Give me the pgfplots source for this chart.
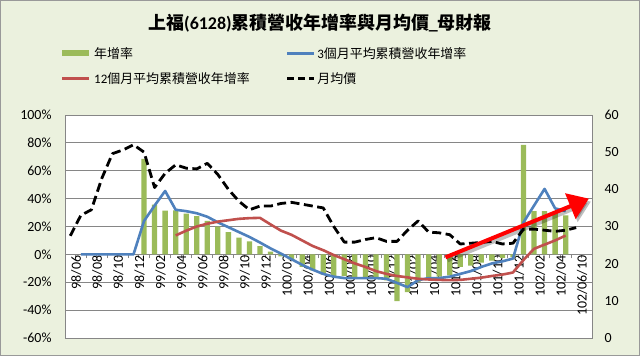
\documentclass[border=0pt]{standalone}
\usepackage{fontspec}
\setmainfont{Carlito}
\newfontfamily\cjk{Noto Sans CJK TC}
\usepackage{pgfplots}
\pgfplotsset{compat=1.18}
\usetikzlibrary{arrows.meta}
\definecolor{bg}{RGB}{235,241,222}
\definecolor{bargreen}{RGB}{155,187,89}
\definecolor{lblue}{RGB}{79,129,189}
\definecolor{lred}{RGB}{192,80,77}
\definecolor{gridgray}{RGB}{134,134,134}
\newcommand\tf{\fontsize{14}{16}\selectfont}
\newcommand\lf{\fontsize{13}{15}\selectfont}
\begin{document}
\begin{tikzpicture}[x=1bp,y=1bp]
\useasboundingbox (0,0) rectangle (640,356);
\fill[bg] (0,0) rectangle (640,356);
\draw[gray!80, line width=1bp] (0.5,0.5) rectangle (639.5,355.5);
\fill[white] (65,18) rectangle (592,241);
\node[font=\fontsize{18}{20}\selectfont\bfseries] at (320,333) {{\cjk 上福}(6128){\cjk 累積營收年增率與月均價}\_{\cjk 母財報}};
\begin{axis}[
  at={(65bp,18bp)}, anchor=south west, scale only axis,
  width=527bp, height=223bp,
  xmin=-0.5, xmax=49.5, ymin=-60, ymax=100,
  axis x line*=middle, axis y line*=left,
  axis line style={gridgray, line width=0.8bp},
  xtick={0,2,...,48},
  xticklabels={98/06,98/08,98/10,98/12,99/02,99/04,99/06,99/08,99/10,99/12,100/02,100/04,100/06,100/08,100/10,100/12,101/02,101/04,101/06,101/08,101/10,101/12,102/02,102/04,102/06/10},
  minor xtick={-0.5,0.5,...,49.5},
  major tick length=0pt, minor tick length=4bp, tick align=outside,
  minor tick style={gridgray, line width=0.8bp},
  xticklabel style={rotate=90, anchor=east, font=\tf, inner sep=1bp, yshift=-6bp},
  ytick={-60,-40,...,100},
  yticklabels={-60\%,-40\%,-20\%,0\%,20\%,40\%,60\%,80\%,100\%},
  yticklabel style={font=\tf, xshift=-10bp},
  ymajorgrids, grid style={gridgray, line width=0.8bp},
  legend columns=2,
  legend cell align=left,
  legend style={at={(-0.0114,1.2197)}, anchor=west, inner sep=0pt, draw=none, fill=none, font=\lf,
    /tikz/every even column/.append style={column sep=34bp},
    row sep=9bp},
  legend image code/.code={\draw[#1] (0bp,0bp) -- (27bp,0bp);},
]
\addlegendimage{bargreen, line width=6bp}
\addlegendentry{{\cjk 年增率}}
\addlegendimage{lblue, line width=2.6bp}
\addlegendentry{3{\cjk 個月平均累積營收年增率}}
\addlegendimage{lred, line width=2.6bp}
\addlegendentry{12{\cjk 個月平均累積營收年增率}}
\addlegendimage{black, line width=2.6bp, dash pattern=on 7bp off 4bp}
\addlegendentry{{\cjk 月均價}}

\addplot[ybar, bar width=0.5, fill=bargreen, draw=none, forget plot] coordinates {
(7,68.6) (8,35.7) (9,31.4) (10,31.5) (11,29.3) (12,27.5) (13,24) (14,20) (15,16) (16,12)
(17,9.3) (18,6) (19,2) (20,-1.5) (21,-4) (22,-9) (23,-11.4) (24,-14.5) (25,-15.8) (26,-15.5)
(27,-16.5) (28,-17) (29,-17.2) (30,-18.6) (31,-33.5) (32,-27) (33,-19.8) (34,-18) (35,-16) (36,-15)
(37,-9) (38,-8) (39,-6) (40,-4.5) (41,-2.5) (42,-2) (43,78.6) (44,31) (45,31) (46,30.5) (47,28)
};
\addplot[lblue, line width=2.6bp, line join=round, forget plot] coordinates {
(1,0) (2,0) (3,0) (4,0) (5,0) (6,0) (7,24) (8,35) (9,45.5) (10,32) (11,31) (12,29.5) (13,27)
(14,23) (15,19.5) (16,16) (17,12.5) (18,8.5) (19,4.3) (20,0.5) (21,-3.5) (22,-7.5) (23,-11)
(24,-14) (25,-16) (26,-17) (27,-17) (28,-17) (29,-17) (30,-17.5) (31,-20.5) (32,-23.5) (33,-18.5)
(34,-17) (35,-17) (36,-16) (37,-14) (38,-12) (39,-9) (40,-6.5) (41,-5) (42,-3) (43,23) (44,35)
(45,47) (46,33) (47,31)
};
\addplot[lred, line width=2.6bp, line join=round, forget plot] coordinates {
(10,13.6) (11,17) (12,20) (13,22) (14,23.5) (15,24.5) (16,25.5) (17,26) (18,26.2) (19,21.5)
(20,17) (21,14) (22,10) (23,6) (24,3) (25,-0.5) (26,-3.5) (27,-6.5) (28,-9) (29,-12) (30,-14)
(31,-15.5) (32,-16.5) (33,-17.5) (34,-18) (35,-18.3) (36,-18.5) (37,-18.3) (38,-17.5) (39,-16.7)
(40,-15.5) (41,-14.5) (42,-13) (43,-4) (44,4) (45,7) (46,10) (47,13.5)
};
\end{axis}
\begin{axis}[
  at={(65bp,18bp)}, anchor=south west, scale only axis,
  width=527bp, height=223bp,
  xmin=-0.5, xmax=49.5, ymin=0, ymax=60,
  axis x line=none, axis y line*=right,
  axis line style={gridgray, line width=0.8bp},
  major tick length=0pt,
  ytick={0,10,...,60},
  yticklabels={0,10,20,30,40,50,60},
  yticklabel style={font=\tf, xshift=9bp},
]
\addplot[black, line width=2.8bp, line join=round, dash pattern=on 9bp off 4.5bp] coordinates {
(0,27.5) (1,33) (2,34.5) (3,43) (4,49.6) (5,50.6) (6,52) (7,50) (8,40.5) (9,44.3) (10,46.6)
(11,45.7) (12,45.5) (13,47) (14,44) (15,40) (16,36.8) (17,34.5) (18,35.5) (19,35.5) (20,36.2)
(21,36.5) (22,36) (23,35.5) (24,35) (25,30) (26,25.8) (27,25.8) (28,26.5) (29,27) (30,26)
(31,26) (32,29) (33,31.5) (34,28.5) (35,28.3) (36,27.8) (37,25.3) (38,25.5) (39,25.7) (40,26)
(41,25.3) (42,25.5) (43,29.3) (44,29.3) (45,29) (46,28.7) (47,29) (48,29.7)
};
\draw[black, opacity=0.25, line width=4bp, -{Triangle[length=20bp,width=27bp]}] ([xshift=2bp,yshift=-3bp]axis cs:35.6,21.7) -- ([xshift=2bp,yshift=-3bp]axis cs:49.2,37.5);
\draw[red, line width=4bp, -{Triangle[length=20bp,width=27bp]}] (axis cs:35.6,21.7) -- (axis cs:49.2,37.5);
\end{axis}
\draw[gridgray, line width=0.8bp] (65,18) rectangle (592,241);
\end{tikzpicture}
\end{document}
